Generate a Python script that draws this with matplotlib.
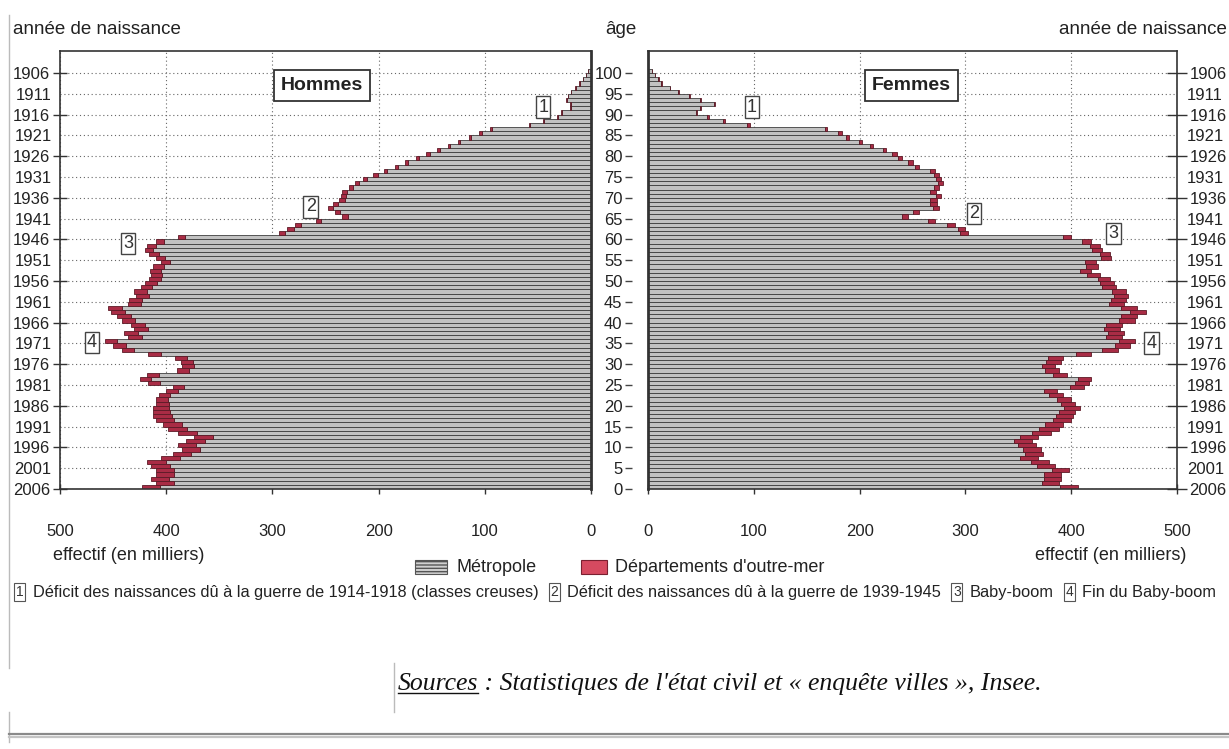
import matplotlib
matplotlib.use("Agg")
import matplotlib.pyplot as plt
import matplotlib.font_manager as fm
from matplotlib.patches import Rectangle
from matplotlib.lines import Line2D
import numpy as np

# --- données (effectifs en milliers, âge 0 -> 100) ---
ages = np.arange(0, 101)

hommes_total = [423, 410, 414, 410, 410, 414, 418, 405, 394, 385,
                389, 381, 374, 389, 398, 403, 410, 412, 412, 412,
                410, 410, 407, 400, 394, 417, 425, 418, 390, 385,
                386, 392, 417, 442, 450, 458, 436, 440, 430, 433,
                442, 446, 452, 455, 436, 435, 428, 430, 424, 420,
                416, 414, 415, 412, 405, 410, 416, 420, 418, 410,
                389, 294, 286, 279, 259, 234, 241, 248, 243, 237,
                235, 234, 228, 222, 215, 205, 195, 185, 175, 165,
                155, 145, 135, 125, 115, 105, 95, 58, 45, 32,
                28, 20, 20, 24, 22, 19, 15, 11, 8, 5, 3]

hommes_dom = [17, 17, 17, 17, 17, 18, 18, 18, 17, 17,
              17, 18, 18, 18, 18, 18, 17, 17, 16, 15,
              13, 12, 11, 11, 11, 11, 11, 11, 11, 11,
              11, 12, 12, 12, 12, 12, 13, 13, 13, 13,
              13, 13, 13, 13, 12, 12, 12, 12, 11, 11,
              11, 10, 10, 10, 9, 9, 9, 8, 8, 8,
              7, 6, 6, 6, 5, 5, 5, 5, 5, 5,
              4, 4, 4, 4, 4, 4, 3, 3, 3, 3,
              3, 3, 2, 2, 2, 2, 2, 1, 1, 1,
              1, 1, 1, 1, 0.5, 0.5, 0.5, 0.3, 0.3, 0.2, 0.2]

femmes_total = [406, 388, 390, 390, 398, 385, 379, 369, 373, 371,
                367, 363, 369, 381, 388, 392, 400, 402, 404, 408,
                404, 400, 392, 387, 412, 417, 419, 396, 388, 385,
                390, 392, 419, 444, 456, 460, 448, 450, 446, 448,
                460, 462, 471, 462, 450, 452, 454, 452, 442, 440,
                437, 427, 419, 425, 423, 438, 437, 429, 427, 419,
                400, 302, 300, 290, 271, 246, 256, 275, 273, 273,
                277, 272, 275, 279, 277, 275, 271, 256, 250, 240,
                235, 225, 213, 202, 190, 183, 169, 96, 73, 58,
                46, 50, 63, 50, 40, 29, 21, 13, 10, 7, 4]

femmes_dom = [17, 16, 16, 16, 16, 17, 17, 17, 17, 17,
              17, 17, 17, 18, 18, 17, 17, 16, 16, 15,
              14, 13, 13, 13, 13, 13, 13, 13, 13, 13,
              14, 14, 14, 15, 15, 15, 15, 15, 15, 15,
              15, 15, 15, 15, 14, 14, 14, 13, 13, 13,
              12, 12, 11, 11, 10, 10, 10, 9, 9, 9,
              8, 7, 7, 7, 6, 6, 6, 6, 6, 6,
              5, 5, 5, 5, 5, 5, 4, 4, 4, 4,
              4, 3, 3, 3, 3, 3, 2, 2, 2, 2,
              1, 1, 1, 1, 1, 0.5, 0.5, 0.5, 0.3, 0.3, 0.2]

age_ticks = [0, 5, 10, 15, 20, 25, 30, 35, 40, 45, 50,
             55, 60, 65, 70, 75, 80, 85, 90, 95, 100]
annee_labels = ["2006", "2001", "1996", "1991", "1986", "1981", "1976",
                "1971", "1966", "1961", "1956", "1951", "1946", "1941",
                "1936", "1931", "1926", "1921", "1916", "1911", "1906"]
x_ticks = [0, 100, 200, 300, 400, 500]

notes = [("1", "Déficit des naissances dû à la guerre de 1914-1918 (classes creuses)"),
         ("2", "Déficit des naissances dû à la guerre de 1939-1945"),
         ("3", "Baby-boom"),
         ("4", "Fin du Baby-boom")]


def pick_font(names):
    for n in names:
        try:
            fm.findfont(fm.FontProperties(family=n), fallback_to_default=False)
            return n
        except ValueError:
            pass
    return "DejaVu Sans"


SANS = pick_font(["Liberation Sans Narrow", "Liberation Sans"])
SERIF = pick_font(["Liberation Serif", "DejaVu Serif"])
plt.rcParams['font.family'] = [SANS, 'DejaVu Sans']

GREY = '#c2c2c2'
GREY_EDGE = '#3e3e3e'
RED = '#a92c45'
RED_EDGE = '#5c1a26'
TXT = '#222222'

W, H = 1229, 749
fig = plt.figure(figsize=(W / 100, H / 100), dpi=100)


def fx(p):
    return p / W


def fy(p):
    return 1 - p / H


Y_BOT, Y_TOP = 489, 51
axL = fig.add_axes([fx(60), fy(Y_BOT), (591 - 60) / W, (Y_BOT - Y_TOP) / H])
axR = fig.add_axes([fx(648), fy(Y_BOT), (1177 - 648) / W, (Y_BOT - Y_TOP) / H])

for ax, tot, dom in ((axL, hommes_total, hommes_dom), (axR, femmes_total, femmes_dom)):
    tot = np.array(tot, dtype=float)
    dom = np.array(dom, dtype=float)
    metro = tot - dom
    ax.barh(ages, metro, height=1, align='edge', color=GREY, edgecolor=GREY_EDGE,
            linewidth=0.6, zorder=2)
    ax.barh(ages, dom, left=metro, height=1, align='edge', color=RED, edgecolor=RED_EDGE,
            linewidth=0.6, zorder=2)
    ax.set_xlim(0, 500)
    ax.set_ylim(0, 105.3)
    ax.set_xticks(x_ticks)
    ax.set_xticklabels([str(v) for v in x_ticks])
    ax.set_yticks(age_ticks[::2])
    ax.set_yticks(age_ticks[1::2], minor=True)
    ax.grid(True, which='both', axis='y', linestyle=(0, (1, 2.5)), color='#666666', linewidth=0.8)
    ax.grid(True, which='major', axis='x', linestyle=(0, (1, 2.5)), color='#666666', linewidth=0.8)
    ax.set_axisbelow(True)
    for s in ax.spines.values():
        s.set_color('#333333')
        s.set_linewidth(1.2)
    ax.tick_params(axis='x', direction='inout', length=7, width=1, color='#333333',
                   labelsize=12, labelcolor=TXT, pad=22)

axL.invert_xaxis()
axL.spines['right'].set_linewidth(2)
axR.spines['left'].set_linewidth(2)

# années de naissance, à gauche
axL.set_yticklabels(annee_labels[::2])
axL.set_yticklabels(annee_labels[1::2], minor=True)
axL.tick_params(axis='y', which='major', direction='inout', length=10, width=1,
                color='#333333', labelsize=12, labelcolor=TXT, pad=2)
axL.tick_params(axis='y', which='minor', length=0, labelsize=12, labelcolor=TXT, pad=6)

# années de naissance, à droite
axR.yaxis.tick_right()
axR.set_yticklabels(annee_labels[::2])
axR.set_yticklabels(annee_labels[1::2], minor=True)
axR.tick_params(axis='y', which='major', direction='inout', length=14, width=1,
                color='#333333', labelsize=12, labelcolor=TXT, pad=2)
axR.tick_params(axis='y', which='minor', length=0, labelsize=12, labelcolor=TXT, pad=7)

# axe des âges entre les deux pyramides
age_ax = axR.secondary_yaxis(-0.03)
age_ax.set_yticks(age_ticks)
age_ax.set_yticklabels([str(a) for a in age_ticks])
age_ax.spines['left'].set_visible(False)
age_ax.tick_params(axis='y', direction='out', length=5, width=1, color='#444444',
                   labelsize=12, labelcolor=TXT, pad=2)

# encadrés Hommes / Femmes
box_kw = dict(boxstyle='square,pad=0.35', fc='white', ec='#333333', lw=1.3)
axL.text(253, 97, "Hommes", ha='center', va='center', fontsize=14, fontweight='bold',
         color=TXT, bbox=box_kw, zorder=5)
axR.text(249, 97, "Femmes", ha='center', va='center', fontsize=14, fontweight='bold',
         color=TXT, bbox=box_kw, zorder=5)

num_kw = dict(boxstyle='square,pad=0.12', fc='white', ec='#444444', lw=1)
for ax, pts in ((axL, [("1", 45, 91.8), ("2", 264, 67.8), ("3", 436, 59), ("4", 470, 35.3)]),
                (axR, [("1", 98, 91.8), ("2", 308, 66.3), ("3", 440, 61.5), ("4", 476, 35.1)])):
    for n, xv, yv in pts:
        ax.text(xv, yv, n, ha='center', va='center', fontsize=13, color='#333333',
                bbox=num_kw, zorder=5)

# titres en haut
fig.text(fx(13), fy(29), "année de naissance", ha='left', va='center', fontsize=13.5, color=TXT)
fig.text(fx(621), fy(29), "âge", ha='center', va='center', fontsize=13.5, color=TXT)
fig.text(fx(1227), fy(29), "année de naissance", ha='right', va='center', fontsize=13.5, color=TXT)

# unités
fig.text(fx(53), fy(556), "effectif (en milliers)", ha='left', va='center', fontsize=13, color=TXT)
fig.text(fx(1186), fy(556), "effectif (en milliers)", ha='right', va='center', fontsize=13, color=TXT)

# légende
ly = 567
fig.add_artist(Rectangle((fx(415), fy(ly + 7)), 32 / W, 14 / H, transform=fig.transFigure,
                         fc='#d0d0d0', ec='#555555', lw=0.8, hatch='-----'))
fig.text(fx(456), fy(ly), "Métropole", ha='left', va='center', fontsize=13, color=TXT)
fig.add_artist(Rectangle((fx(581), fy(ly + 7)), 26 / W, 14 / H, transform=fig.transFigure,
                         fc='#d64a60', ec='#7a2030', lw=0.8))
fig.text(fx(615), fy(ly), "Départements d'outre-mer", ha='left', va='center', fontsize=13, color=TXT)

# notes numérotées
fig.canvas.draw()
rend = fig.canvas.get_renderer()
ny = 592
xpos = 16
for n, lab in notes:
    t = fig.text(fx(xpos), fy(ny), n, ha='left', va='center', fontsize=10, color='#333333',
                 bbox=dict(boxstyle='square,pad=0.12', fc='white', ec='#555555', lw=0.8))
    xpos = t.get_window_extent(rend).x1 + 9
    t = fig.text(fx(xpos), fy(ny), lab, ha='left', va='center', fontsize=11.8, color=TXT)
    xpos = t.get_window_extent(rend).x1 + 12

# source
sy = 690
t1 = fig.text(fx(398), fy(sy), "Sources", ha='left', va='baseline', fontsize=18.5,
              style='italic', family=SERIF, color='#111111')
bb = t1.get_window_extent(rend)
fig.add_artist(Line2D([bb.x0 / W, bb.x1 / W], [fy(sy + 3), fy(sy + 3)], transform=fig.transFigure,
                      color='#111111', lw=1))
fig.text(bb.x1 / W, fy(sy), " : Statistiques de l'état civil et « enquête villes », Insee.",
         ha='left', va='baseline', fontsize=18.5, style='italic', family=SERIF, color='#111111')

# filets gris de la page
fig.add_artist(Line2D([fx(9), fx(9)], [fy(15), fy(668)], transform=fig.transFigure,
                      color='#bbbbbb', lw=1))
fig.add_artist(Line2D([fx(9), fx(9)], [fy(712), fy(742)], transform=fig.transFigure,
                      color='#bbbbbb', lw=1))
fig.add_artist(Line2D([fx(394), fx(394)], [fy(663), fy(712)], transform=fig.transFigure,
                      color='#bbbbbb', lw=1))
fig.add_artist(Line2D([fx(9), 1], [fy(734), fy(734)], transform=fig.transFigure,
                      color='#8a8a8a', lw=1.6))
fig.add_artist(Line2D([fx(9), 1], [fy(737), fy(737)], transform=fig.transFigure,
                      color='#c4c4c4', lw=1.6))

fig.savefig("out.png", dpi=100)
